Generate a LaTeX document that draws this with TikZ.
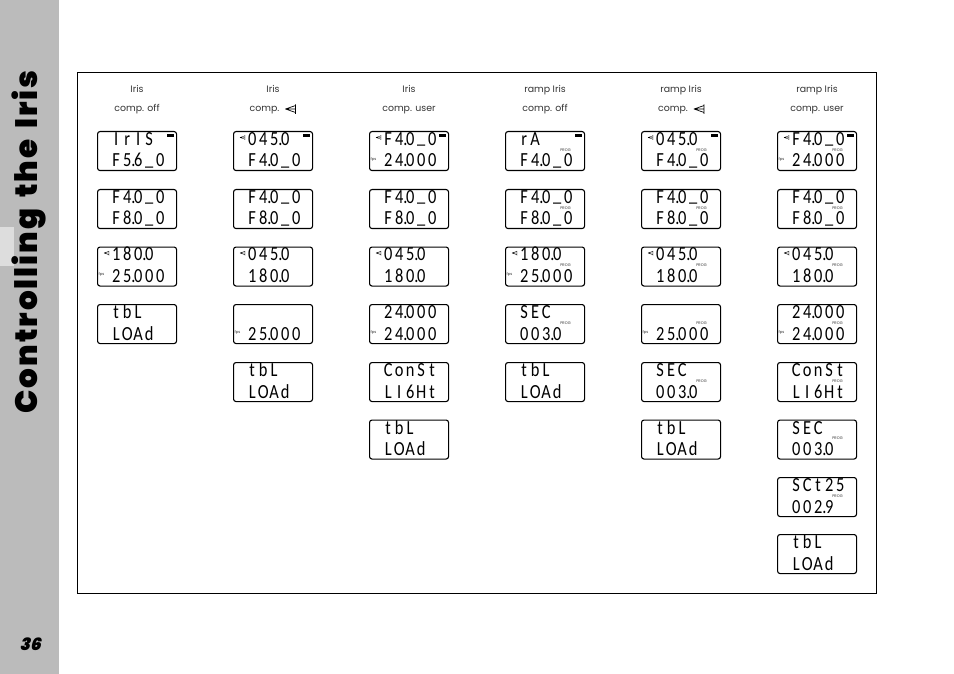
\documentclass[tikz,border=0pt]{standalone}
\usepackage{fontspec}
\setmainfont{Poppins}
\newfontfamily\lcdfont[FakeStretch=0.82]{Carlito}
\newfontfamily\titlefont[LetterSpace=6.4,WordSpace=1.5]{Poppins Black}
\newfontfamily\pagefont[FakeSlant=0.25]{Poppins Black}
\definecolor{sidegray}{HTML}{BBBBBB}
\definecolor{sidelight}{HTML}{DDDDDD}
\newcommand{\pnt}{\rlap{.}}
\newcommand{\dsh}{\raisebox{1.5pt}{\_}}
\newcommand{\cells}[1]{\foreach \ch in {#1}{\makebox[11pt]{\ch}}}
\newcommand{\lcdbox}[5]{%
	\node[lcd] (#1) at (#2,#3) {};
	\node[lcdtext] (#1top) at ([shift={(13.5,14.5)}]#1.north west) {\cells{#4}};
	\node[lcdtext] (#1bot) at ([shift={(13.5,36)}]#1.north west) {\cells{#5}};
}
\newcommand{\flagon}[1]{\node[flag] (#1flag) at ([shift={(73.5,4.5)}]#1.north west) {};}
\newcommand{\progon}[1]{\node[tiny] (#1prog) at ([shift={(60.5,19)}]#1.north west) {PROG};}
\newcommand{\fpson}[1]{\node[tiny] (#1fps) at ([shift={(4.5,28.5)}]#1.north west) {fps};}
\newcommand{\compon}[1]{\pic[scale=.5] at ([shift={(7,6.5)}]#1.north west) {compsym={.35pt}};}
\begin{document}
\begin{tikzpicture}[x=1pt,y=-1pt,
		lcd/.style={draw,line width=1.1pt,rounded corners=2.5pt,minimum width=79pt,minimum height=39pt,inner sep=0pt,anchor=north west},
		lcdtext/.style={inner sep=0pt,anchor=base west,font=\lcdfont\fontsize{20}{20}\selectfont},
		flag/.style={fill=black,minimum width=7pt,minimum height=3pt,inner sep=0pt},
		tiny/.style={inner sep=0pt,text=black!80,font=\fontsize{3.8}{4}\selectfont},
		headtext/.style={inner sep=0pt,anchor=base,text=black!80,font=\fontsize{9.4}{11}\selectfont},
		pics/compsym/.style={code={
				\draw[line width=#1,line join=round] (0,0) -- (10,-3.5) -- (10,3.5) -- cycle (10,-4.5) -- (10,5) (0,0) -- (10,0);
			}}]
	\useasboundingbox (0,0) rectangle (954,674);
	\fill[sidegray] (0,0) rectangle (59,674);
	\fill[sidelight] (0,227) rectangle (14,266);
	\node[rotate=90,inner sep=0pt,font=\titlefont\fontsize{31}{31}\selectfont] (title) at (29,242) {Controlling the Iris};
	\node[inner sep=0pt,font=\pagefont\fontsize{17}{17}\selectfont] (page) at (30,644) {36};
	\draw[line width=.8pt] (77.5,72.5) rectangle (876.5,593);

	\node[headtext] (h1a) at (137,93) {Iris};
	\node[headtext] (h1b) at (137,112) {comp. off};
	\node[headtext] (h2a) at (273,93) {Iris};
	\node[headtext] (h2b) at (264.5,112) {comp.};
	\pic at ([shift={(6,-3)}]h2b.base east) {compsym={.7pt}};
	\node[headtext] (h3a) at (409,93) {Iris};
	\node[headtext] (h3b) at (409,112) {comp. user};
	\node[headtext] (h4a) at (545,93) {ramp Iris};
	\node[headtext] (h4b) at (545,112) {comp. off};
	\node[headtext] (h5a) at (681,93) {ramp Iris};
	\node[headtext] (h5b) at (673,112) {comp.};
	\pic at ([shift={(6,-3)}]h5b.base east) {compsym={.7pt}};
	\node[headtext] (h6a) at (817,93) {ramp Iris};
	\node[headtext] (h6b) at (817,112) {comp. user};

	\lcdbox{a1}{97}{131}{I,r,I,S}{F,5\pnt,6,\dsh,0}
	\lcdbox{a2}{97}{189}{F,4\pnt,0,\dsh,0}{F,8\pnt,0,\dsh,0}
	\lcdbox{a3}{97}{246.5}{1,8,0\pnt,0}{2,5\pnt,0,0,0}
	\lcdbox{a4}{97}{304}{t,b,L}{L,O,A,d}
	\flagon{a1} \compon{a3} \fpson{a3}

	\lcdbox{b1}{233}{131}{0,4,5\pnt,0}{F,4\pnt,0,\dsh,0}
	\lcdbox{b2}{233}{189}{F,4\pnt,0,\dsh,0}{F,8\pnt,0,\dsh,0}
	\lcdbox{b3}{233}{246.5}{0,4,5\pnt,0}{1,8,0\pnt,0}
	\lcdbox{b4}{233}{304}{}{2,5\pnt,0,0,0}
	\lcdbox{b5}{233}{362}{t,b,L}{L,O,A,d}
	\flagon{b1} \compon{b1} \compon{b3} \fpson{b4}

	\lcdbox{c1}{369}{131}{F,4\pnt,0,\dsh,0}{2,4\pnt,0,0,0}
	\lcdbox{c2}{369}{189}{F,4\pnt,0,\dsh,0}{F,8\pnt,0,\dsh,0}
	\lcdbox{c3}{369}{246.5}{0,4,5\pnt,0}{1,8,0\pnt,0}
	\lcdbox{c4}{369}{304}{2,4\pnt,0,0,0}{2,4\pnt,0,0,0}
	\lcdbox{c5}{369}{362}{C,o,n,S,t}{L,I,6,H,t}
	\lcdbox{c6}{369}{419.5}{t,b,L}{L,O,A,d}
	\flagon{c1} \compon{c1} \fpson{c1} \compon{c3} \fpson{c4}

	\lcdbox{d1}{505}{131}{r,A}{F,4\pnt,0,\dsh,0}
	\lcdbox{d2}{505}{189}{F,4\pnt,0,\dsh,0}{F,8\pnt,0,\dsh,0}
	\lcdbox{d3}{505}{246.5}{1,8,0\pnt,0}{2,5\pnt,0,0,0}
	\lcdbox{d4}{505}{304}{S,E,C}{0,0,3\pnt,0}
	\lcdbox{d5}{505}{362}{t,b,L}{L,O,A,d}
	\flagon{d1} \progon{d1} \progon{d2} \compon{d3} \fpson{d3} \progon{d3} \progon{d4}

	\lcdbox{e1}{641}{131}{0,4,5\pnt,0}{F,4\pnt,0,\dsh,0}
	\lcdbox{e2}{641}{189}{F,4\pnt,0,\dsh,0}{F,8\pnt,0,\dsh,0}
	\lcdbox{e3}{641}{246.5}{0,4,5\pnt,0}{1,8,0\pnt,0}
	\lcdbox{e4}{641}{304}{}{2,5\pnt,0,0,0}
	\lcdbox{e5}{641}{362}{S,E,C}{0,0,3\pnt,0}
	\lcdbox{e6}{641}{419.5}{t,b,L}{L,O,A,d}
	\flagon{e1} \compon{e1} \progon{e1} \progon{e2} \compon{e3} \progon{e3} \fpson{e4} \progon{e4} \progon{e5}

	\lcdbox{f1}{777}{131}{F,4\pnt,0,\dsh,0}{2,4\pnt,0,0,0}
	\lcdbox{f2}{777}{189}{F,4\pnt,0,\dsh,0}{F,8\pnt,0,\dsh,0}
	\lcdbox{f3}{777}{246.5}{0,4,5\pnt,0}{1,8,0\pnt,0}
	\lcdbox{f4}{777}{304}{2,4\pnt,0,0,0}{2,4\pnt,0,0,0}
	\lcdbox{f5}{777}{362}{C,o,n,S,t}{L,I,6,H,t}
	\lcdbox{f6}{777}{419.5}{S,E,C}{0,0,3\pnt,0}
	\lcdbox{f7}{777}{477}{S,C,t,2,5}{0,0,2\pnt,9}
	\lcdbox{f8}{777}{534}{t,b,L}{L,O,A,d}
	\flagon{f1} \compon{f1} \fpson{f1} \progon{f1} \progon{f2} \compon{f3} \progon{f3} \fpson{f4} \progon{f4} \progon{f5} \progon{f6} \progon{f7}
\end{tikzpicture}
\end{document}
